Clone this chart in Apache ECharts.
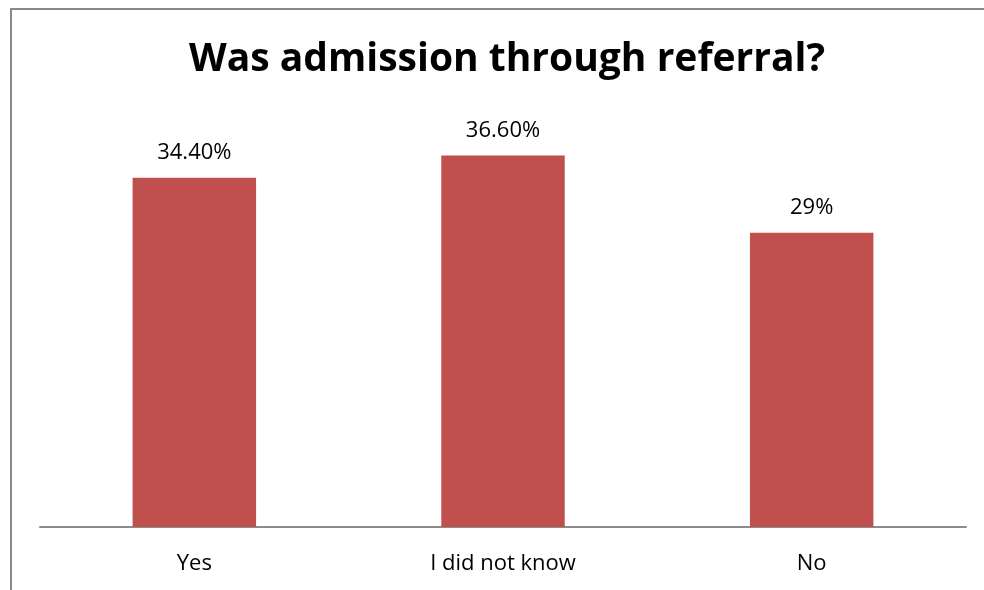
<!DOCTYPE html>
<html>
<head>
<meta charset="utf-8">
<script src="https://cdn.jsdelivr.net/npm/echarts@6/dist/echarts.min.js"></script>
<style>
  html, body { margin: 0; padding: 0; background: #fff; }
  #chart { width: 984px; height: 590px; }
</style>
</head>
<body>
<div id="chart"></div>
<script>
// Survey answers and their shares (percent)
const categories = ['Yes', 'I did not know', 'No'];
const shares = [34.4, 36.6, 29];
const shareLabels = ['34.40%', '36.60%', '29%'];
const titleText = 'Was admission through referral?';

const FONT = '"Open Sans", "Liberation Sans", sans-serif';
const chart = echarts.init(document.getElementById('chart'), null, { renderer: 'canvas' });

chart.setOption({
  backgroundColor: '#ffffff',
  animation: false,
  title: {
    text: titleText,
    left: 502,
    textAlign: 'center',
    top: 35,
    textStyle: { fontFamily: FONT, fontWeight: 'bold', fontSize: 39, color: '#000' }
  },
  graphic: [{
    type: 'rect',
    shape: { x: 11, y: 9, width: 1000, height: 600 },
    style: { fill: 'none', stroke: '#888888', lineWidth: 2 },
    silent: true
  }],
  grid: { left: 40, right: 18, top: 121, bottom: 63, containLabel: false },
  xAxis: {
    type: 'category',
    data: categories,
    axisLine: { show: true, lineStyle: { color: '#8c8c8c', width: 2 } },
    axisTick: { show: false },
    axisLabel: { fontFamily: FONT, fontSize: 22, color: '#000', margin: 26 }
  },
  yAxis: {
    type: 'value',
    min: 0,
    max: 40,
    show: false,
    splitLine: { show: false }
  },
  series: [{
    type: 'bar',
    data: shares,
    barWidth: '40%',
    itemStyle: { color: '#C0504D' },
    label: {
      show: true,
      position: 'top',
      distance: 14,
      fontFamily: FONT,
      fontSize: 22,
      color: '#000',
      formatter: p => shareLabels[p.dataIndex]
    }
  }]
});
</script>
</body>
</html>
